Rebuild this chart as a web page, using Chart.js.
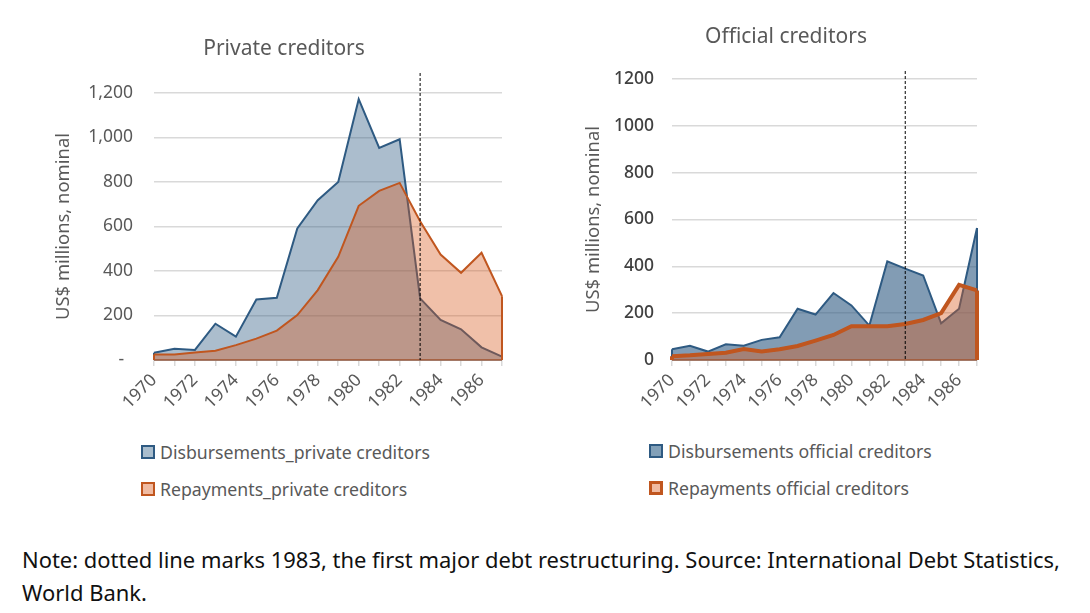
<!DOCTYPE html>
<html>
<head>
<meta charset="utf-8">
<script src="https://cdn.jsdelivr.net/npm/chart.js@4.4.0/dist/chart.umd.min.js"></script>
<style>
    body { margin: 0; width: 1090px; height: 613px; background: #fff; position: relative; overflow: hidden; font-family: "Noto Sans", sans-serif; }
    .chartBox { position: absolute; }
    .legend { position: absolute; color: #595959; font-size: 17.7px; }
    .legend .item { height: 37px; display: flex; align-items: center; white-space: nowrap; }
    .legend .swatch { width: 14px; height: 14px; box-sizing: border-box; margin-right: 5px; }
    .note { position: absolute; left: 22px; top: 543px; font-size: 21.95px; line-height: 33px; color: #111; white-space: nowrap; }
</style>
</head>
<body>

<div class="chartBox" style="left:20px; top:0; width:528px; height:430px;"><canvas id="privateChart"></canvas></div>
<div class="chartBox" style="left:560px; top:0; width:452px; height:430px;"><canvas id="officialChart"></canvas></div>

<div class="legend" id="privateLegend" style="left:141px; top:433px;"></div>
<div class="legend" id="officialLegend" style="left:649px; top:432px;"></div>

<div class="note">Note: dotted line marks 1983, the first major debt restructuring. Source: International Debt Statistics,<br>World Bank.</div>

<script>
const years = ['1970', '1971', '1972', '1973', '1974', '1975', '1976', '1977', '1978',
    '1979', '1980', '1981', '1982', '1983', '1984', '1985', '1986', '1987'];
const markYear = '1983';

// US$ millions, nominal
const privateDisb = [33, 51, 45, 163, 105, 272, 280, 591, 718, 800, 1172, 953, 992, 277, 180, 138, 57, 15];
const privateRep = [25, 25, 34, 42, 67, 96, 132, 202, 314, 464, 693, 760, 796, 624, 474, 392, 482, 287];
const officialDisb = [46, 61, 36, 67, 61, 86, 97, 219, 194, 286, 233, 147, 421, 390, 361, 157, 219, 564];
const officialRep = [16, 20, 26, 31, 47, 36, 46, 60, 83, 107, 144, 144, 144, 154, 171, 200, 321, 297];

const privateNames = ['Disbursements_private creditors', 'Repayments_private creditors'];
const officialNames = ['Disbursements official creditors', 'Repayments official creditors'];

const FONT = '"Noto Sans", sans-serif';
const GREY = '#595959';
const GRID = '#D9D9D9';
const BLUE = '#2E5A82';
const ORANGE = '#C0561F';

// dotted marker at 1983, placed with the x scale
const restructuringLine = {
    id: 'restructuringLine',
    afterDatasetsDraw(chart, args, opts) {
        const ctx = chart.ctx;
        const x = chart.scales.x.getPixelForValue(years.indexOf(markYear));
        const { top, bottom } = chart.chartArea;
        ctx.save();
        ctx.strokeStyle = '#000';
        ctx.lineWidth = 1;
        ctx.setLineDash([3, 2]);
        ctx.beginPath();
        ctx.moveTo(x, top - opts.above);
        ctx.lineTo(x, bottom);
        ctx.stroke();
        ctx.restore();
    },
};

// Excel-style area outline: close the shape down to zero at both ends
const areaEdges = {
    id: 'areaEdges',
    afterDatasetDraw(chart, args) {
        const pts = args.meta.data;
        if (!pts.length) return;
        const ds = chart.data.datasets[args.index];
        const base = chart.scales.y.getPixelForValue(0);
        const first = pts[0];
        const last = pts[pts.length - 1];
        const ctx = chart.ctx;
        ctx.save();
        ctx.strokeStyle = ds.borderColor;
        ctx.lineWidth = 1;
        ctx.beginPath();
        ctx.moveTo(first.x, base);
        ctx.lineTo(last.x, base);
        ctx.stroke();
        ctx.lineWidth = ds.borderWidth;
        ctx.beginPath();
        ctx.moveTo(first.x, first.y);
        ctx.lineTo(first.x, base);
        ctx.moveTo(last.x, last.y);
        ctx.lineTo(last.x, base);
        ctx.stroke();
        ctx.restore();
    },
};

function makeChart(id, opt) {
    return new Chart(document.getElementById(id), {
        type: 'line',
        data: {
            labels: years,
            datasets: [
                {
                    label: opt.names[0],
                    data: opt.disb,
                    borderColor: BLUE,
                    backgroundColor: opt.blueFill,
                    borderWidth: 2,
                    fill: 'origin',
                    pointRadius: 0,
                    tension: 0,
                    order: 2,
                },
                {
                    label: opt.names[1],
                    data: opt.rep,
                    borderColor: ORANGE,
                    backgroundColor: opt.orangeFill,
                    borderWidth: opt.repWidth,
                    fill: 'origin',
                    pointRadius: 0,
                    tension: 0,
                    order: 1,
                },
            ],
        },
        options: {
            responsive: true,
            maintainAspectRatio: false,
            animation: false,
            layout: { padding: 0 },
            plugins: {
                legend: { display: false },
                tooltip: { enabled: false },
                title: {
                    display: true,
                    text: opt.title,
                    color: GREY,
                    font: { family: FONT, size: 21, weight: 'normal' },
                    padding: { top: opt.titleTop, bottom: opt.titleBottom },
                },
                restructuringLine: { above: opt.lineAbove },
            },
            scales: {
                x: {
                    ticks: {
                        autoSkip: false,
                        maxRotation: 45,
                        minRotation: 45,
                        color: GREY,
                        padding: 4,
                        font: { family: FONT, size: 17.5 },
                        callback: function (value, index) {
                            return index % 2 === 0 ? years[index] : '';
                        },
                    },
                    grid: { drawOnChartArea: false, drawTicks: true, tickLength: 6, color: GRID, lineWidth: 1.5 },
                    border: { color: GRID, width: 1.5 },
                    afterFit: function (scale) { scale.height = 70; },
                },
                y: {
                    min: 0,
                    max: 1200,
                    ticks: {
                        stepSize: 200,
                        color: opt.yTickColor,
                        padding: opt.yTickPad,
                        font: { family: FONT, size: 17.5, weight: opt.yTickWeight },
                        callback: opt.yFormat,
                    },
                    grid: { color: GRID, lineWidth: 1.5, drawTicks: false },
                    border: { display: false },
                    title: {
                        display: true,
                        text: 'US$ millions, nominal',
                        color: GREY,
                        font: { family: FONT, size: 18.4 },
                        padding: { top: opt.yTitlePad, bottom: 0 },
                    },
                    afterFit: function (scale) { scale.width = opt.yWidth; },
                },
                // empty right-hand strip so the title centres on the whole canvas
                spacer: {
                    position: 'right',
                    min: 0,
                    max: 1200,
                    ticks: { display: false },
                    grid: { display: false },
                    border: { display: false },
                    afterFit: function (scale) { scale.width = opt.padRight; },
                },
            },
        },
        plugins: [areaEdges, restructuringLine],
    });
}

makeChart('privateChart', {
    title: 'Private creditors',
    names: privateNames,
    disb: privateDisb,
    rep: privateRep,
    blueFill: 'rgba(46, 90, 130, 0.4)',
    orangeFill: 'rgba(215, 90, 30, 0.38)',
    repWidth: 2,
    padRight: 46,
    titleTop: 36.4,
    titleBottom: 31.4,
    lineAbove: 20,
    yTickColor: GREY,
    yTickWeight: 'normal',
    yTickPad: 21,
    yTitlePad: 33,
    yWidth: 134,
    yFormat: function (v) { return v === 0 ? '-\u2002' : v.toLocaleString('en-US'); },
});

makeChart('officialChart', {
    title: 'Official creditors',
    names: officialNames,
    disb: officialDisb,
    rep: officialRep,
    blueFill: 'rgba(46, 90, 130, 0.6)',
    orangeFill: 'rgba(215, 90, 30, 0.4)',
    repWidth: 4,
    padRight: 35,
    titleTop: 24.4,
    titleBottom: 29.4,
    lineAbove: 8,
    yTickColor: '#404040',
    yTickWeight: '500',
    yTickPad: 18,
    yTitlePad: 23,
    yWidth: 112,
    yFormat: function (v) { return String(v); },
});

// HTML legends built from the series names
function buildLegend(id, names, swatches) {
    const el = document.getElementById(id);
    names.forEach(function (name, i) {
        const row = document.createElement('div');
        row.className = 'item';
        const sw = document.createElement('span');
        sw.className = 'swatch';
        sw.style.background = swatches[i].fill;
        sw.style.border = swatches[i].border;
        const txt = document.createElement('span');
        txt.textContent = name;
        row.appendChild(sw);
        row.appendChild(txt);
        el.appendChild(row);
    });
}

buildLegend('privateLegend', privateNames, [
    { fill: '#A9BDCD', border: '2px solid ' + BLUE },
    { fill: '#F0BBA2', border: '2px solid ' + ORANGE },
]);
buildLegend('officialLegend', officialNames, [
    { fill: '#82A0B8', border: '2px solid ' + BLUE },
    { fill: '#F0BBA2', border: '3px solid ' + ORANGE },
]);
</script>
</body>
</html>
